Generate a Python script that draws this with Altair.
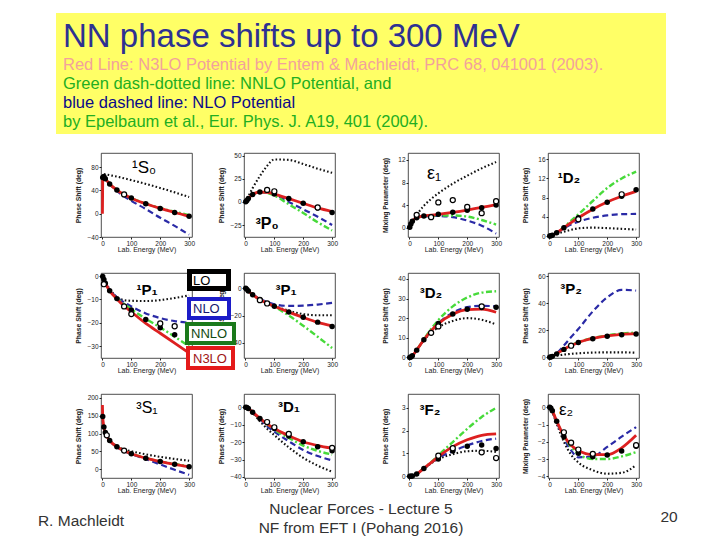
import altair as alt
import pandas as pd

# ----------------------------- data -----------------------------------------
MODELS = ["LO", "NLO", "NNLO", "N3LO"]
E_GRID = [0, 10, 25, 50, 75, 100, 150, 200, 250, 300]
E_PWA = [1, 5, 10, 25, 50, 100, 150, 200, 250, 300]

# 1S0
S10_E = [0, 1, 5, 10, 25, 50, 100, 150, 200, 250, 300]
S10_LO = [None, None, 68, 67.5, 66, 63.5, 57.5, 51, 44, 36.5, 28.5]
S10_NLO = [None, 62, 63, 59.5, 51, 39, 22, 8, -7, -21, -36]
S10_NNLO = [None, 62, 63.5, 60, 51, 40.8, 26.8, 17.4, 9.6, 3.4, -2.6]
S10_N3LO = [0, 62, 63.5, 60, 50.9, 40.5, 26.6, 17, 9, 2, -4.5]
S10_PWA = [62.07, 63.63, 59.96, 50.90, 40.54, 26.78, 16.94, 8.94, 2.02, -4.46]
S10_OPEN_E = [75]
S10_OPEN = [33]

# 3P0
P30_LO = [0, 6, 15, 28, 39, 46, 45.5, 41, 36, 31.5]
P30_NLO = [0, 3.5, 8, 10.5, 10, 8, 0, -8, -16, -25]
P30_NNLO = [0, 3.5, 8, 10.5, 9.8, 7, -2.5, -12, -22, -31]
P30_N3LO = [0, 3.6, 8.1, 10.7, 10.5, 8.5, 3.6, -1.5, -6.5, -10.5]
P30_PWA = [0.18, 1.63, 3.65, 8.13, 10.70, 8.46, 3.69, -1.44, -6.51, -11.47]
P30_OPEN_E = [75, 100, 250]
P30_OPEN = [13, 11.5, -6]

# epsilon 1
EP1_LO = [0, 1.2, 2.3, 3.9, 5.1, 6.1, 7.8, 9.2, 10.5, 11.6]
EP1_NLO = [0, 1.1, 1.8, 2.0, 2.1, 2.1, 1.9, 1.3, 0.4, -1.0]
EP1_NNLO = [0, 1.1, 1.8, 2.05, 2.15, 2.2, 2.2, 2.0, 1.4, 0.6]
EP1_N3LO = [0, 1.15, 1.8, 2.1, 2.25, 2.4, 2.75, 3.15, 3.6, 4.1]
EP1_PWA = [0.105, 0.672, 1.159, 1.793, 2.109, 2.42, 2.75, 3.13, 3.56, 4.03]
EP1_OPEN_E = [25, 75, 100, 150, 200, 250, 300]
EP1_OPEN = [2.3, 1.9, 4.5, 4.9, 3.7, 2.6, 4.7]

# 1D2
D12_LO = [0, 0.1, 0.45, 0.9, 1.3, 1.6, 1.75, 1.65, 1.5, 1.35]
D12_NLO = [0, 0.16, 0.7, 1.6, 2.4, 3.0, 3.8, 4.3, 4.55, 4.6]
D12_NNLO = [0, 0.17, 0.72, 1.85, 3.2, 4.5, 7.3, 10.0, 12.0, 13.4]
D12_N3LO = [0, 0.16, 0.7, 1.7, 2.8, 3.8, 5.6, 7.1, 8.3, 9.3]
D12_PWA = [0.001, 0.043, 0.165, 0.696, 1.711, 3.79, 5.61, 7.06, 8.27, 9.65]
D12_OPEN_E = [100, 250]
D12_OPEN = [3.5, 8.7]

# 1P1
P11_LO = [0, -2.5, -5.5, -9, -10.3, -10.6, -10.7, -10.3, -9.4, -8.3]
P11_NLO = [0, -2.8, -6, -9, -11.3, -13, -16, -18, -19.3, -20]
P11_NNLO = [0, -3, -6.2, -9.5, -12, -14.2, -18.3, -22, -26, -30]
P11_N3LO = [0, -3, -6.3, -9.8, -12.8, -15.3, -20.3, -24.5, -28.7, -33]
P11_PWA = [-0.19, -1.49, -3.04, -6.31, -9.67, -14.52, -18.65, -22.18, -25.13, -27.58]
P11_OPEN_E = [5, 75, 100, 200, 250]
P11_OPEN = [-3.5, -13, -16.3, -20.3, -21.5]

# 3P1
P31_LO = [0, -2, -4.7, -8.1, -10.8, -13, -16.5, -19, -19.8, -19.8]
P31_NLO = [0, -2, -4.6, -7.8, -10.2, -11.8, -13, -12.8, -12, -10.8]
P31_NNLO = [0, -2.1, -4.9, -8.3, -11, -13.6, -20, -27.5, -35.5, -43.7]
P31_N3LO = [0, -2.1, -4.9, -8.3, -11, -13.3, -17.5, -21.4, -25, -27.5]
P31_PWA = [-0.11, -0.94, -2.06, -4.88, -8.25, -13.26, -17.46, -21.30, -24.84, -28.07]
P31_OPEN_E = [50, 75]
P31_OPEN = [-8.8, -11.2]

# 3D2
D32_LO = [0, 0.8, 3.6, 8.6, 12.5, 15.3, 18.6, 20, 19.2, 16.8]
D32_NLO = [0, 0.85, 3.7, 9, 13.5, 17.3, 22.8, 25.6, 26.3, 26]
D32_NNLO = [0, 0.87, 3.8, 9.3, 14.5, 19, 26, 30.5, 33, 33.7]
D32_N3LO = [0, 0.85, 3.7, 9, 13.5, 17.2, 22, 24.3, 24.6, 23]
D32_PWA = [0.006, 0.22, 0.85, 3.71, 8.97, 17.28, 22.13, 24.51, 25.47, 25.61]
D32_OPEN_E = [75, 100, 250]
D32_OPEN = [12.5, 15.8, 26]

# 3P2
P32_LO = [0, 0.5, 1.2, 2.0, 2.6, 3.0, 3.5, 3.7, 3.7, 3.4]
P32_NLO = [0, 0.8, 3.0, 8.8, 15, 21, 34, 44.5, 50, 49.5]
P32_NNLO = [0, 0.7, 2.6, 6.0, 8.8, 11.2, 14.2, 16.3, 17.6, 18.3]
P32_N3LO = [0, 0.7, 2.6, 5.9, 8.7, 11, 14, 15.9, 17, 17.5]
P32_PWA = [0.02, 0.25, 0.71, 2.56, 5.89, 10.94, 13.84, 15.63, 16.74, 17.37]
P32_OPEN_E = [75]
P32_OPEN = [8.6]

# 3S1
S31_E = [0, 1, 5, 10, 25, 50, 75, 100, 150, 200, 250, 300]
S31_LO = [None, None, None, 104, 82, 65, 55, 50, 41.5, 34.5, 28.5, 23.5]
S31_NLO = [None, None, None, 102, 80, 62, 51, 42, 28, 13, -2, -16]
S31_NNLO = [None, None, None, 102, 80.5, 62.8, 52, 43.3, 31, 21.5, 14.5, 8]
S31_N3LO = [180, 148, 118, 102.6, 80.6, 62.8, 51.5, 43.2, 30.7, 21.2, 13.4, 6.6]
S31_PWA = [147.75, 118.18, 102.61, 80.63, 62.77, 43.23, 30.72, 21.22, 13.39, 6.60]
S31_OPEN_E = [15, 75]
S31_OPEN = [95, 52]

# 3D1
D31_LO = [0, -0.8, -3.3, -8, -12.3, -16, -23, -29, -33.5, -37]
D31_NLO = [0, -0.7, -3, -7, -10.8, -14, -19.5, -24.5, -28, -30.5]
D31_NNLO = [0, -0.7, -2.9, -6.6, -9.8, -12.8, -17.6, -22, -25, -27.2]
D31_N3LO = [0, -0.7, -2.8, -6.4, -9.5, -12.2, -16.3, -19.8, -22, -23.5]
D31_PWA = [-0.005, -0.18, -0.68, -2.82, -6.45, -12.24, -16.48, -19.84, -22.64, -24.99]
D31_OPEN_E = [75, 100, 150, 300]
D31_OPEN = [-8.5, -11.5, -15.3, -23.3]

# 3F2
F32_LO = [0, 0.01, 0.1, 0.33, 0.57, 0.75, 0.97, 1.1, 1.12, 1.07]
F32_NLO = [0, 0.01, 0.1, 0.34, 0.58, 0.8, 1.1, 1.35, 1.55, 1.65]
F32_NNLO = [0, 0.01, 0.1, 0.36, 0.62, 0.92, 1.5, 2.08, 2.6, 3.0]
F32_N3LO = [0, 0.01, 0.1, 0.35, 0.6, 0.86, 1.3, 1.6, 1.8, 1.86]
F32_PWA = [0.0, 0.002, 0.012, 0.105, 0.338, 0.757, 1.11, 1.32, 1.37, 1.22]
F32_OPEN_E = [100, 150, 250, 300]
F32_OPEN = [0.9, 1.23, 1.05, 0.8]

# epsilon 2
EP2_LO = [0, -0.3, -0.95, -2.0, -2.75, -3.2, -3.65, -3.85, -3.8, -3.35]
EP2_NLO = [0, -0.25, -0.85, -1.8, -2.5, -2.9, -2.85, -2.3, -1.7, -1.15]
EP2_NNLO = [0, -0.22, -0.8, -1.7, -2.3, -2.7, -3.0, -3.0, -2.85, -2.6]
EP2_N3LO = [0, -0.22, -0.8, -1.65, -2.2, -2.5, -2.75, -2.75, -2.35, -1.62]
EP2_PWA = [-0.001, -0.05, -0.2, -0.81, -1.71, -2.66, -2.87, -2.77, -2.54, -2.26]
EP2_OPEN_E = [50, 75, 100, 150, 300]
EP2_OPEN = [-1.45, -2.05, -2.45, -2.7, -2.2]

X_TICKS = [0, 100, 200, 300]
X_TICKS_HIDDEN = [0, 100, 200]   # 1P1: the 300 label sits under the legend
TITLE = "NN phase shifts up to 300 MeV"
SUB_LINES = [
    "Red Line: N3LO Potential by Entem & Machleidt, PRC 68, 041001 (2003).",
    "Green dash-dotted line: NNLO Potential, and",
    "blue dashed line: NLO Potential",
    "by Epelbaum et al., Eur. Phys. J. A19, 401 (2004).",
]
LEG_LABELS = ["LO", "NLO", "NNLO", "N3LO"]
FOOT_LEFT = "R. Machleidt"
FOOT_CENTER = ["Nuclear Forces - Lecture 5", "NF from EFT I (Pohang 2016)"]
FOOT_RIGHT = "20"

# ----------------------------- styles ---------------------------------------
FONT = "Liberation Sans"
LINE_STYLE = {
    "LO": dict(color="#111111", strokeDash=[1.6, 2.2], strokeWidth=2.1),
    "NLO": dict(color="#2A2AA6", strokeDash=[6, 3.5], strokeWidth=2.2),
    "NNLO": dict(color="#47DA3A", strokeDash=[6, 2.5, 2, 2.5], strokeWidth=2.4),
    "N3LO": dict(color="#DD2020", strokeWidth=2.8),
}
SUB_COLORS = ["#F2A29C", "#22AE22", "#0A0A8A", "#22AE22"]
LEG_BORDER = ["#000000", "#1C1CC8", "#1B7A1B", "#E41A1A"]
LEG_TEXT = ["#000000", "#16166E", "#114A11", "#9E1515"]
LEG_GEOM = [(-54.5, -15.5, -1.5, 15.5, 5), (-55, -15, 26, 45, 4),
            (-57, -10, 51, 70, 4), (-56, -11, 75, 95, 4)]
LEG_TXT_POS = [(-51, 7.5), (-51, 36), (-53, 61), (-51, 85.5)]

PANEL_W = 91
ROW_H = [84, 85, 84]
GAPS = [52, 73, 49]
PS = "Phase Shift (deg)"
MP = "Mixing Parameter (deg)"
# every block of the vertical stack shares the grid's origin (first panel's left edge, x=100)
ORIGIN_X = 100


def curve_frame(E, series):
    rows = []
    for model, vals in zip(MODELS, series):
        for e, v in zip(E, vals):
            if v is not None:
                rows.append({"E": e, "v": v, "model": model})
    return pd.DataFrame(rows)


PANELS = [
    # row 1
    dict(E=S10_E, s=[S10_LO, S10_NLO, S10_NNLO, S10_N3LO], pwa=S10_PWA, oe=S10_OPEN_E, ov=S10_OPEN,
         dom=[-40, 104], ticks=[-40, 0, 40, 80], yt=PS, lab="¹S₀", lx=43, ly=15, fw="normal", fs=17),
    dict(E=E_GRID, s=[P30_LO, P30_NLO, P30_NNLO, P30_N3LO], pwa=P30_PWA, oe=P30_OPEN_E, ov=P30_OPEN,
         dom=[-38, 53], ticks=[-25, 0, 25, 50], yt=PS, lab="³P₀", lx=23, ly=71, fw="bold", fs=16),
    dict(E=E_GRID, s=[EP1_LO, EP1_NLO, EP1_NNLO, EP1_N3LO], pwa=EP1_PWA, oe=EP1_OPEN_E, ov=EP1_OPEN,
         dom=[-1.6, 13.2], ticks=[0, 4, 8, 12], yt=MP, lab="ε₁", lx=26, ly=21, fw="normal", fs=18),
    dict(E=E_GRID, s=[D12_LO, D12_NLO, D12_NNLO, D12_N3LO], pwa=D12_PWA, oe=D12_OPEN_E, ov=D12_OPEN,
         dom=[-0.2, 17.3], ticks=[0, 4, 8, 12, 16], yt=PS, lab="¹D₂", lx=21, ly=25, fw="bold", fs=15),
    # row 2
    dict(E=E_GRID, s=[P11_LO, P11_NLO, P11_NNLO, P11_N3LO], pwa=P11_PWA, oe=P11_OPEN_E, ov=P11_OPEN,
         dom=[-35.1, 1.3], ticks=[-30, -20, -10, 0], yt=PS, lab="¹P₁", lx=46, ly=17, fw="bold", fs=15,
         xt=X_TICKS_HIDDEN),
    dict(E=E_GRID, s=[P31_LO, P31_NLO, P31_NNLO, P31_N3LO], pwa=P31_PWA, oe=P31_OPEN_E, ov=P31_OPEN,
         dom=[-51, 11], ticks=[-40, -20, 0], yt=PS, lab="³P₁", lx=42, ly=17, fw="bold", fs=15, legend=True),
    dict(E=E_GRID, s=[D32_LO, D32_NLO, D32_NNLO, D32_N3LO], pwa=D32_PWA, oe=D32_OPEN_E, ov=D32_OPEN,
         dom=[-0.3, 43], ticks=[0, 10, 20, 30, 40], yt=PS, lab="³D₂", lx=23, ly=20, fw="bold", fs=15),
    dict(E=E_GRID, s=[P32_LO, P32_NLO, P32_NNLO, P32_N3LO], pwa=P32_PWA, oe=P32_OPEN_E, ov=P32_OPEN,
         dom=[-0.5, 62.5], ticks=[0, 20, 40, 60], yt=PS, lab="³P₂", lx=23, ly=16, fw="bold", fs=15),
    # row 3
    dict(E=S31_E, s=[S31_LO, S31_NLO, S31_NNLO, S31_N3LO], pwa=S31_PWA, oe=S31_OPEN_E, ov=S31_OPEN,
         dom=[-25, 211], ticks=[0, 50, 100, 150, 200], yt=PS, lab="³S₁", lx=46, ly=14, fw="normal", fs=16),
    dict(E=E_GRID, s=[D31_LO, D31_NLO, D31_NNLO, D31_N3LO], pwa=D31_PWA, oe=D31_OPEN_E, ov=D31_OPEN,
         dom=[-40.6, 7.6], ticks=[-40, -30, -20, -10, 0], yt=PS, lab="³D₁", lx=45, ly=13, fw="bold", fs=15),
    dict(E=E_GRID, s=[F32_LO, F32_NLO, F32_NNLO, F32_N3LO], pwa=F32_PWA, oe=F32_OPEN_E, ov=F32_OPEN,
         dom=[-0.075, 3.61], ticks=[0, 1, 2, 3], yt=PS, lab="³F₂", lx=22, ly=16, fw="bold", fs=15),
    dict(E=E_GRID, s=[EP2_LO, EP2_NLO, EP2_NNLO, EP2_N3LO], pwa=EP2_PWA, oe=EP2_OPEN_E, ov=EP2_OPEN,
         dom=[-4.1, 0.77], ticks=[-4, -3, -2, -1, 0], yt=MP, lab="ε₂", lx=18, ly=16, fw="normal", fs=17),
]


def make_panel(p, h, first_col):
    ext = 92 if first_col else 20
    xenc = alt.X("E:Q", scale=alt.Scale(domain=[-5, 310], nice=False, zero=False),
                 axis=alt.Axis(values=p.get("xt", X_TICKS), title="Lab. Energy (MeV)",
                               labelFontSize=6.5, titleFontSize=7, titleFontWeight="normal",
                               labelPadding=1, tickSize=2, domain=False, grid=False, titleY=8.5,
                               minExtent=10, maxExtent=10, labelColor="#222",
                               titleColor="#222", tickColor="#222"))
    yenc = alt.Y("v:Q", scale=alt.Scale(domain=p["dom"], nice=False, zero=False),
                 axis=alt.Axis(values=p["ticks"], title=p["yt"], labelFontSize=6.5,
                               titleFontSize=6.8, titleFontWeight="bold", labelPadding=1,
                               tickSize=2, domain=False, grid=False, titleX=-19.5,
                               minExtent=ext, maxExtent=ext, labelColor="#222",
                               titleColor="#222", tickColor="#222"))
    df = curve_frame(p["E"], p["s"])
    layers = []
    for m in MODELS:
        sub = df[df["model"] == m]
        if len(sub) == 0:
            continue
        layers.append(alt.Chart(sub).mark_line(clip=True, interpolate="monotone",
                                               **LINE_STYLE[m]).encode(x=xenc, y=yenc))
    pts = pd.DataFrame({"E": E_PWA, "v": p["pwa"]})
    layers.append(alt.Chart(pts).mark_circle(color="black", opacity=1, size=30)
                  .encode(x=xenc, y=yenc))
    op = pd.DataFrame({"E": p["oe"], "v": p["ov"]})
    layers.append(alt.Chart(op).mark_point(shape="circle", filled=True, fill="white",
                                           stroke="black", strokeWidth=1.2, size=26, opacity=1)
                  .encode(x=xenc, y=yenc))
    layers.append(alt.Chart(pd.DataFrame({"t": [p["lab"]]}))
                  .mark_text(font=FONT, fontSize=p["fs"], fontWeight=p["fw"], color="black",
                             align="center", baseline="middle")
                  .encode(x=alt.value(p["lx"]), y=alt.value(p["ly"]), text="t:N"))
    if p.get("legend"):
        for lab, bc, tc, g, tp in zip(LEG_LABELS, LEG_BORDER, LEG_TEXT, LEG_GEOM, LEG_TXT_POS):
            layers.append(alt.Chart(pd.DataFrame({"t": [lab]}))
                          .mark_rect(fill="white", stroke=bc, strokeWidth=g[4])
                          .encode(x=alt.value(g[0]), x2=alt.value(g[1]),
                                  y=alt.value(g[2]), y2=alt.value(g[3])))
            layers.append(alt.Chart(pd.DataFrame({"t": [lab]}))
                          .mark_text(font=FONT, fontSize=13, color=tc, align="left",
                                     baseline="middle")
                          .encode(x=alt.value(tp[0]), y=alt.value(tp[1]), text="t:N"))
    return alt.layer(*layers).properties(
        width=PANEL_W, height=h,
        view=alt.ViewBackground(stroke="#222222", strokeWidth=0.8))


def spacer(w, h):
    return (alt.Chart(pd.DataFrame({"z": [0]})).mark_point(opacity=0, size=1)
            .encode(x=alt.value(0), y=alt.value(0)).properties(width=w, height=h))


cells = []
for r in range(3):
    for c in range(4):
        cells.append(make_panel(PANELS[r * 4 + c], ROW_H[r], c == 0))
        if c < 3:
            cells.append(spacer(GAPS[c], ROW_H[r]))

grid = alt.concat(*cells, columns=7, spacing={"row": 36, "column": 0}, bounds="flush")

# title block (coordinates relative to the shared origin)
ox = ORIGIN_X - 8
one = pd.DataFrame({"z": [0]})
title_layers = [
    alt.Chart(one).mark_rect(fill="#FFFF66").encode(
        x=alt.value(47 - ox), x2=alt.value(657 - ox), y=alt.value(4), y2=alt.value(125)),
    alt.Chart(pd.DataFrame({"t": [TITLE]})).mark_text(
        font=FONT, fontSize=33, color="#2E3192", align="left", baseline="alphabetic")
    .encode(x=alt.value(54 - ox), y=alt.value(38), text="t:N"),
]
for i, (line, col) in enumerate(zip(SUB_LINES, SUB_COLORS)):
    title_layers.append(
        alt.Chart(pd.DataFrame({"t": [line]})).mark_text(
            font=FONT, fontSize=16.5, color=col, align="left", baseline="alphabetic")
        .encode(x=alt.value(54 - ox), y=alt.value(61 + 19 * i), text="t:N"))
title_chart = alt.layer(*title_layers).properties(width=657 - ox, height=130)

# footer
foot_layers = [
    alt.Chart(pd.DataFrame({"t": [FOOT_LEFT]})).mark_text(
        font=FONT, fontSize=15.5, color="#333333", align="center", baseline="middle")
    .encode(x=alt.value(72 - ox), y=alt.value(25.5), text="t:N"),
    alt.Chart(pd.DataFrame({"t": [FOOT_RIGHT]})).mark_text(
        font=FONT, fontSize=15.5, color="#333333", align="center", baseline="middle")
    .encode(x=alt.value(660 - ox), y=alt.value(21.5), text="t:N"),
]
for i, line in enumerate(FOOT_CENTER):
    foot_layers.append(
        alt.Chart(pd.DataFrame({"t": [line]})).mark_text(
            font=FONT, fontSize=15.5, color="#333333", align="center", baseline="middle")
        .encode(x=alt.value(352 - ox), y=alt.value(13.5 + 19 * i), text="t:N"))
footer = alt.layer(*foot_layers).properties(width=680 - ox, height=38)

chart = (alt.vconcat(title_chart, alt.vconcat(grid, footer, spacing=0), spacing=12)
         .properties(padding=0)
         .configure(font=FONT, background="white")
         .configure_view(stroke="transparent"))

chart.save("out.html", embed_options={"renderer": "svg", "actions": False})
